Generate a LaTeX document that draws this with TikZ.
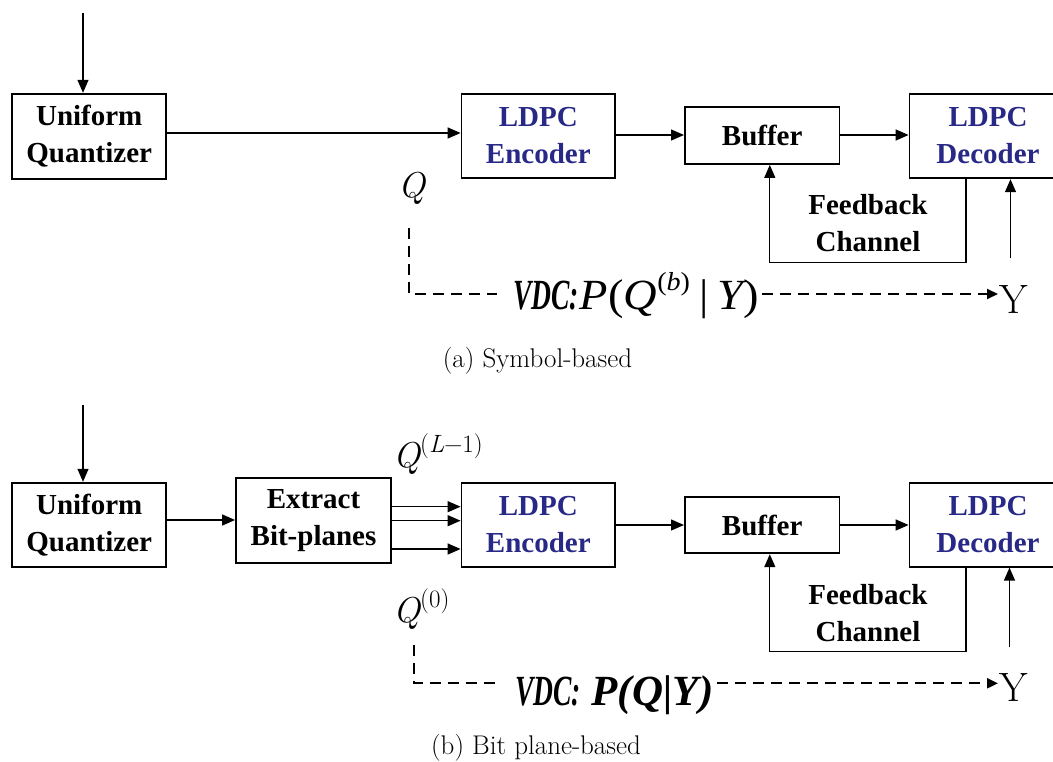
\documentclass[tikz,border=0pt]{standalone}
\usepackage{fontspec}
\usepackage{graphicx}
\usetikzlibrary{arrows.meta}
\newfontfamily\tnr{Liberation Serif}
\definecolor{ldpc}{RGB}{40,40,135}
\newcommand{\boxfnt}{\tnr\bfseries\fontsize{29}{37}\selectfont}
\newcommand{\vdcfnt}{\tnr\fontsize{43}{43}\selectfont}
\newcommand{\qsup}[1]{\raisebox{0.42em}{\fontsize{25}{25}\selectfont #1}}
\begin{document}
\begin{tikzpicture}[x=1pt,y=-1pt,
  blk/.style={draw, line width=1.8pt, inner sep=0pt, align=center, font=\boxfnt},
  arr/.style={-{Triangle[length=13pt,width=11pt]}, line width=1.3pt},
  dsh/.style={line width=2pt, dash pattern=on 11pt off 7pt},
  darr/.style={dsh, -{Triangle[length=11pt,width=10pt]}},
  lbl/.style={inner sep=0pt},
  qfnt/.style={font=\fontsize{36}{36}\selectfont},
  capfnt/.style={font=\fontsize{27}{32}\selectfont}
]
\useasboundingbox (0,0) rectangle (1053,762);
\clip (0,0) rectangle (1053,762);

% ---------------- (a) ----------------
\node[blk, minimum width=154pt, minimum height=85pt] (quantA) at (89.25,136.2) {Uniform\\Quantizer};
\node[blk, text=ldpc, minimum width=153.7pt, minimum height=84.6pt] (encA) at (538.35,136) {LDPC\\Encoder};
\node[blk, minimum width=154.6pt, minimum height=56.7pt] (bufA) at (762.2,135.65) {Buffer};
\node[blk, text=ldpc, minimum width=157pt, minimum height=84.6pt] (decA) at (988,136) {LDPC\\Decoder};
\node[lbl, align=center, font=\boxfnt] (fbA) at (868,223.5) {Feedback\\Channel};
\node[lbl, anchor=base west, qfnt] (qA) at (398,197.5) {\itshape Q};
\node[lbl, anchor=base west] (vdcA) at (513,310)
  {\vdcfnt\scalebox{0.64}[1]{\bfseries\itshape VDC:}\hspace{1pt}\scalebox{1.08}[1]{\itshape P\upshape(\itshape Q\raisebox{0.45em}{\fontsize{26}{26}\selectfont\upshape(\itshape b\upshape)}\hspace{0.2em}\upshape|\hspace{0.2em}\itshape Y\upshape)}};
\node[lbl, inner xsep=1pt, anchor=base west, font=\fontsize{41}{41}\selectfont] (yA) at (998,313.3) {Y};
\node[lbl, anchor=base, capfnt] (capA) at (537.5,367) {(a) Symbol-based};
\coordinate (inA) at (83,13.3);
\coordinate (dA) at (409,228.3);
\coordinate (yinA) at (1010.5,258.3);
\coordinate (vA1) at ([xshift=-16pt]vdcA.west);
\coordinate (vA2) at ([xshift=3pt]vdcA.east);

\draw[arr] (inA) -- (inA |- quantA.north);
\draw[arr] (quantA.east |- 0,133) -- (encA.west |- 0,133);
\draw[arr] (encA.east |- 0,135) -- (bufA.west |- 0,135);
\draw[arr] (bufA.east |- 0,135) -- (decA.west |- 0,135);
\draw[arr] (decA.south -| 966,0) -- (966,262.3) -- (769.8,262.3) -- (bufA.south -| 769.8,0);
\draw[arr] (yinA) -- (yinA |- decA.south);
\draw[dsh] (dA) |- (vA1 |- 0,294);
\draw[darr] (vA2 |- 0,294) -- (yA.west |- 0,294);

% ---------------- (b) ----------------
\node[blk, minimum width=154pt, minimum height=84.6pt] (quantB) at (89.25,525) {Uniform\\Quantizer};
\node[blk, minimum width=155pt, minimum height=84.4pt] (extB) at (313.5,520.5) {Extract\\Bit-planes};
\node[blk, text=ldpc, minimum width=153.7pt, minimum height=84.6pt] (encB) at (538.35,525) {LDPC\\Encoder};
\node[blk, minimum width=154.6pt, minimum height=56pt] (bufB) at (762.2,525.3) {Buffer};
\node[blk, text=ldpc, minimum width=157pt, minimum height=84pt] (decB) at (988,524.7) {LDPC\\Decoder};
\node[lbl, align=center, font=\boxfnt] (fbB) at (868,613.5) {Feedback\\Channel};
\node[lbl, anchor=base west, qfnt] (qLB) at (393,467.5) {\itshape Q\qsup{\upshape(\itshape L\upshape−1)}};
\node[lbl, anchor=base west, qfnt] (q0B) at (393,622.5) {\itshape Q\qsup{\upshape(0)}};
\node[lbl, anchor=base west] (vdcB) at (515,705)
  {\vdcfnt\bfseries\itshape\scalebox{0.64}[1]{VDC:}\hspace{0.25em}P(Q|Y)};
\node[lbl, inner xsep=1pt, anchor=base west, font=\fontsize{41}{41}\selectfont] (yB) at (998,701.7) {Y};
\node[lbl, anchor=base, capfnt] (capB) at (536,754) {(b) Bit plane-based};
\coordinate (inB) at (83,405);
\coordinate (dB) at (414,645);
\coordinate (yinB) at (1009.5,646.7);
\coordinate (vB1) at ([xshift=-16pt]vdcB.west);
\coordinate (vB2) at ([xshift=3pt]vdcB.east);

\draw[arr] (inB) -- (inB |- quantB.north);
\draw[arr] (quantB.east |- 0,520) -- (extB.west |- 0,520);
\draw[arr] (extB.east |- 0,506.7) -- (encB.west |- 0,506.7);
\draw[arr] (extB.east |- 0,520.7) -- (encB.west |- 0,520.7);
\draw[arr] (extB.east |- 0,549) -- (encB.west |- 0,549);
\draw[arr] (encB.east |- 0,525) -- (bufB.west |- 0,525);
\draw[arr] (bufB.east |- 0,525) -- (decB.west |- 0,525);
\draw[arr] (decB.south -| 966,0) -- (966,651.7) -- (769.8,651.7) -- (bufB.south -| 769.8,0);
\draw[arr] (yinB) -- (yinB |- decB.south);
\draw[dsh] (dB) |- (vB1 |- 0,683.3);
\draw[darr] (vB2 |- 0,683.3) -- (yB.west |- 0,683.3);
\end{tikzpicture}
\end{document}
